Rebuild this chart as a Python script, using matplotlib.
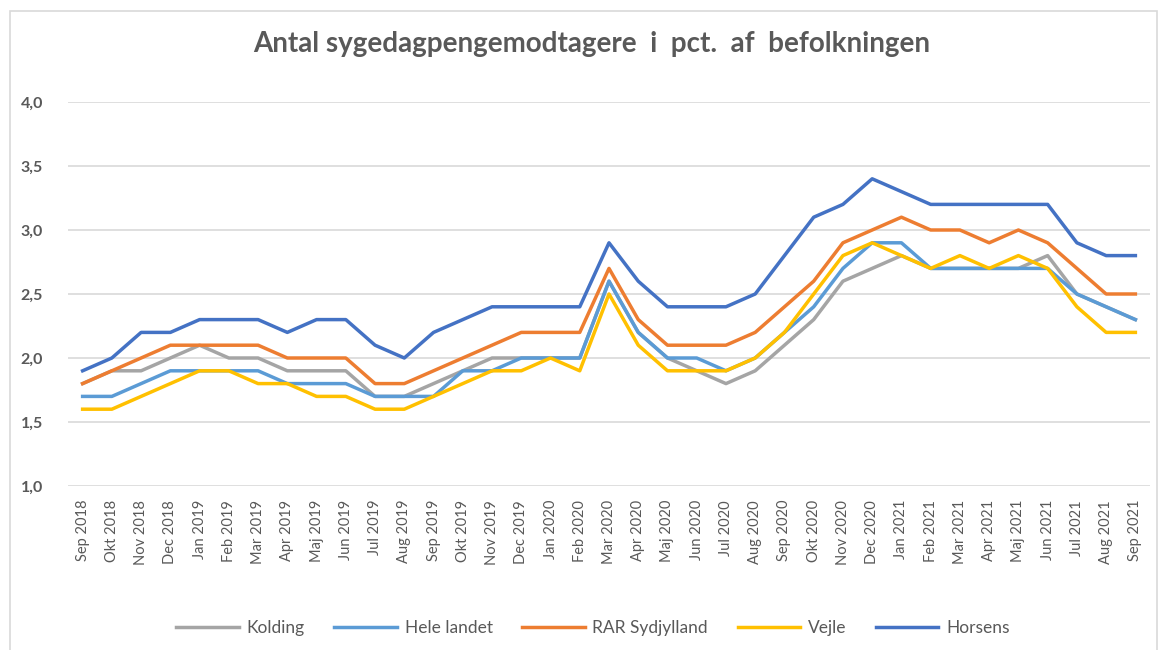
import matplotlib.pyplot as plt
from matplotlib.patches import Rectangle

plt.rcParams['font.family'] = ['Lato', 'DejaVu Sans']

months = ['Sep 2018', 'Okt 2018', 'Nov 2018', 'Dec 2018', 'Jan 2019', 'Feb 2019',
          'Mar 2019', 'Apr 2019', 'Maj 2019', 'Jun 2019', 'Jul 2019', 'Aug 2019',
          'Sep 2019', 'Okt 2019', 'Nov 2019', 'Dec 2019', 'Jan 2020', 'Feb 2020',
          'Mar 2020', 'Apr 2020', 'Maj 2020', 'Jun 2020', 'Jul 2020', 'Aug 2020',
          'Sep 2020', 'Okt 2020', 'Nov 2020', 'Dec 2020', 'Jan 2021', 'Feb 2021',
          'Mar 2021', 'Apr 2021', 'Maj 2021', 'Jun 2021', 'Jul 2021', 'Aug 2021',
          'Sep 2021']

kolding = [1.8, 1.9, 1.9, 2.0, 2.1, 2.0, 2.0, 1.9, 1.9, 1.9, 1.7, 1.7,
           1.8, 1.9, 2.0, 2.0, 2.0, 2.0, 2.6, 2.2, 2.0, 1.9, 1.8, 1.9,
           2.1, 2.3, 2.6, 2.7, 2.8, 2.7, 2.7, 2.7, 2.7, 2.8, 2.5, 2.4, 2.3]
hele_landet = [1.7, 1.7, 1.8, 1.9, 1.9, 1.9, 1.9, 1.8, 1.8, 1.8, 1.7, 1.7,
               1.7, 1.9, 1.9, 2.0, 2.0, 2.0, 2.6, 2.2, 2.0, 2.0, 1.9, 2.0,
               2.2, 2.4, 2.7, 2.9, 2.9, 2.7, 2.7, 2.7, 2.7, 2.7, 2.5, 2.4, 2.3]
rar_sydjylland = [1.8, 1.9, 2.0, 2.1, 2.1, 2.1, 2.1, 2.0, 2.0, 2.0, 1.8, 1.8,
                  1.9, 2.0, 2.1, 2.2, 2.2, 2.2, 2.7, 2.3, 2.1, 2.1, 2.1, 2.2,
                  2.4, 2.6, 2.9, 3.0, 3.1, 3.0, 3.0, 2.9, 3.0, 2.9, 2.7, 2.5, 2.5]
vejle = [1.6, 1.6, 1.7, 1.8, 1.9, 1.9, 1.8, 1.8, 1.7, 1.7, 1.6, 1.6,
         1.7, 1.8, 1.9, 1.9, 2.0, 1.9, 2.5, 2.1, 1.9, 1.9, 1.9, 2.0,
         2.2, 2.5, 2.8, 2.9, 2.8, 2.7, 2.8, 2.7, 2.8, 2.7, 2.4, 2.2, 2.2]
horsens = [1.9, 2.0, 2.2, 2.2, 2.3, 2.3, 2.3, 2.2, 2.3, 2.3, 2.1, 2.0,
           2.2, 2.3, 2.4, 2.4, 2.4, 2.4, 2.9, 2.6, 2.4, 2.4, 2.4, 2.5,
           2.8, 3.1, 3.2, 3.4, 3.3, 3.2, 3.2, 3.2, 3.2, 3.2, 2.9, 2.8, 2.8]

series = [('Kolding', kolding, '#A5A5A5'),
          ('Hele landet', hele_landet, '#5B9BD5'),
          ('RAR Sydjylland', rar_sydjylland, '#ED7D31'),
          ('Vejle', vejle, '#FFC000'),
          ('Horsens', horsens, '#4472C4')]

text_col = '#595959'

fig = plt.figure(figsize=(11.64, 6.5), dpi=100)
ax = fig.add_axes([68 / 1164, 1 - 486 / 650, (1150 - 68) / 1164, (486 - 102) / 650])

x = list(range(len(months)))
for name, vals, col in series:
    ax.plot(x, vals, color=col, lw=2.5, label=name, solid_joinstyle='round')

ax.set_xlim(-0.5, len(months) - 0.5)
ax.set_ylim(1.0, 4.0)
ax.set_yticks([1.0, 1.5, 2.0, 2.5, 3.0, 3.5, 4.0])
ax.set_yticklabels(['1,0', '1,5', '2,0', '2,5', '3,0', '3,5', '4,0'],
                   fontsize=11.5, color=text_col, fontweight='bold')
ax.set_xticks(x)
ax.set_xticklabels(months, rotation=90, fontsize=10.5, color=text_col)
ax.tick_params(axis='both', length=0)
ax.tick_params(axis='y', pad=18)
ax.tick_params(axis='x', pad=10)
ax.grid(axis='y', color='#D9D9D9', lw=1.2)
ax.set_axisbelow(True)
for s in ax.spines.values():
    s.set_visible(False)

fig.text(592 / 1164, 1 - 44 / 650, 'Antal sygedagpengemodtagere  i  pct.  af  befolkningen',
         ha='center', va='center', fontsize=20, fontweight='bold', color=text_col)

fig.legend(loc='center', bbox_to_anchor=(593 / 1164, 1 - 628 / 650), ncol=5,
           frameon=False, fontsize=12.5, handlelength=3.6, columnspacing=1.7,
           handletextpad=0.45, labelcolor=text_col)

fig.patches.append(Rectangle((10 / 1164, -0.01), (1157 - 10) / 1164, 1 - 11 / 650 + 0.01,
                             transform=fig.transFigure, fill=False,
                             edgecolor='#D9D9D9', lw=1.2))

fig.savefig('out.png', dpi=100)
